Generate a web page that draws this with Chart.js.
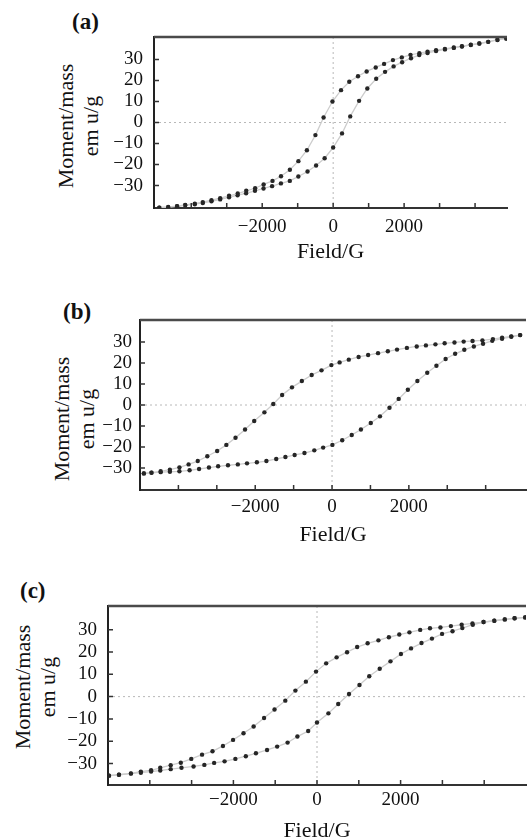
<!DOCTYPE html>
<html>
<head>
<meta charset="utf-8">
<script src="https://cdn.jsdelivr.net/npm/chart.js@4.4.0/dist/chart.umd.min.js"></script>
<style>
  body { margin: 0; background: #fff; width: 530px; height: 839px; position: relative; overflow: hidden;
         font-family: "Liberation Serif", "Times New Roman", serif; color: #111; }
  .panel { position: absolute; left: 0; width: 530px; }
  .tag { position: absolute; font-weight: bold; font-size: 23px; line-height: 1; }
  .ytitle { position: absolute; font-size: 22px; line-height: 25px; text-align: center; white-space: nowrap;
            transform: translate(-50%, -50%) rotate(-90deg); }
</style>
</head>
<body>
<div class="tag" style="left:72px;top:10px">(a)</div>
<div class="tag" style="left:63px;top:300px">(b)</div>
<div class="tag" style="left:20px;top:579px">(c)</div>

<div class="ytitle" style="left:78px;top:126px">Moment/mass<br>em u/g</div>
<div class="ytitle" style="left:74px;top:419px">Moment/mass<br>em u/g</div>
<div class="ytitle" style="left:35px;top:687px">Moment/mass<br>em u/g</div>

<div class="panel" style="top:0;height:272px"><canvas id="chartA"></canvas></div>
<div class="panel" style="top:280px;height:275px"><canvas id="chartB"></canvas></div>
<div class="panel" style="top:565px;height:280px"><canvas id="chartC"></canvas></div>

<script>
const FONT = '"Liberation Serif", "Times New Roman", serif';

// ── (a): descending branch (from +H) and ascending branch (from −H) ──
const A_UP_X = [4880, 4630, 4370, 4120, 3880, 3630, 3400, 3150, 2900, 2660, 2430, 2180, 1935, 1685, 1435, 1200, 944, 700, 454, 222,
                -20, -270, -500, -740, -980, -1220, -1470, -1710, -1960, -2200, -2450, -2690, -2935, -3185, -3430, -3675, -3900, -4170, -4400, -4650, -4900];
const A_UP_Y = [40, 39.4, 38.4, 37.6, 37, 36.3, 35.7, 35, 34.4, 33.7, 33, 32.2, 31, 29.7, 27.9, 26.2, 24.3, 22, 19.4, 15.4,
                10, 2.4, -6, -13.2, -18.4, -22.5, -25.6, -27.8, -29.5, -31.3, -32.5, -33.8, -34.9, -36, -37, -37.9, -38.6, -39.2, -39.8, -40.2, -40.5];
const A_DN_X = [-4900, -4650, -4400, -4170, -3900, -3675, -3430, -3185, -2935, -2694, -2454, -2204, -1963, -1722, -1472, -1222, -981, -722, -481, -240,
                0, 250, 481, 731, 963, 1213, 1463, 1704, 1944, 2194, 2426, 2660, 2900, 3150, 3400, 3630, 3880, 4120, 4370, 4630, 4880];
const A_DN_Y = [-40.5, -40.3, -39.9, -39.4, -38.9, -38.3, -37.5, -36.6, -35.6, -34.6, -33.7, -32.5, -31.4, -30.3, -29, -27.8, -25.7, -23.3, -20.5, -17,
                -11.9, -5.2, 2.9, 10.3, 16.2, 20.8, 24.1, 26.7, 28.7, 30.6, 32.1, 33.1, 34, 34.8, 35.5, 36.2, 36.9, 37.6, 38.4, 39.3, 40];

// ── (b) ──
const B_UP_X = [4897, 4667, 4427, 4188, 3915, 3658, 3427, 3188, 2932, 2692, 2444, 2205, 1949, 1692, 1453, 1197, 940, 692, 436, 197,
                -17, -274, -530, -786, -1043, -1299, -1530, -1761, -2026, -2265, -2513, -2752, -2991, -3248, -3496, -3735, -3974, -4222, -4462, -4701, -4900];
const B_UP_Y = [33.3, 32.7, 32.1, 31.4, 30.8, 30.5, 30.2, 29.8, 29.4, 28.9, 28.4, 27.9, 27.2, 26.4, 25.6, 24.7, 23.8, 22.9, 21.6, 20.3,
                19, 16.5, 14.3, 11.4, 8.4, 4.8, 0.5, -3.5, -7.6, -11.7, -15.6, -19, -21.9, -24.4, -26.7, -28.3, -29.7, -30.8, -31.6, -32.2, -32.6];
const B_DN_X = [-4900, -4701, -4462, -4222, -3974, -3709, -3462, -3205, -2966, -2709, -2453, -2214, -1957, -1709, -1453, -1214, -974, -718, -462, -231,
                9, 265, 513, 752, 1009, 1248, 1496, 1735, 1974, 2222, 2479, 2718, 2957, 3205, 3444, 3692, 3932, 4171, 4427, 4667, 4897];
const B_DN_Y = [-32.6, -32.3, -32.0, -31.8, -31.6, -31.1, -30.5, -29.8, -29.2, -28.7, -28.3, -27.8, -27.3, -26.7, -25.7, -24.8, -23.8, -22.9, -21.6, -20.3,
                -19, -16.8, -14.3, -11.7, -8.6, -5.4, -1.3, 2.9, 7.3, 11.4, 15.4, 18.7, 21.9, 24.4, 26.3, 27.9, 29.2, 30.6, 31.6, 32.5, 33.3];

// ── (c) ──
const C_UP_X = [4980, 4727, 4492, 4242, 3984, 3719, 3461, 3203, 2953, 2703, 2469, 2211, 1969, 1719, 1469, 1211, 961, 719, 469, 219,
                -23, -266, -516, -758, -1016, -1266, -1516, -1758, -2008, -2250, -2500, -2750, -3008, -3258, -3500, -3750, -3969, -4214, -4452, -4738, -4976];
const C_UP_Y = [35.5, 35.1, 34.6, 34.0, 33.4, 32.8, 32.2, 31.6, 31.0, 30.6, 29.9, 28.8, 27.8, 26.6, 25.2, 23.9, 22.2, 19.9, 17.6, 14.9,
                11.2, 6.7, 2.7, -1.8, -5.8, -9.6, -13.4, -16.4, -19.4, -22.1, -24.5, -26.0, -27.9, -29.6, -30.7, -31.9, -33.0, -33.6, -34.4, -35.0, -35.4];
const C_DN_X = [-4976, -4738, -4452, -4214, -3969, -3750, -3500, -3242, -2953, -2695, -2461, -2211, -1953, -1703, -1461, -1195, -953, -703, -469, -211,
                0, 273, 508, 766, 1016, 1250, 1500, 1758, 2008, 2250, 2500, 2750, 2992, 3242, 3477, 3727, 3984, 4242, 4492, 4727, 4980];
const C_DN_Y = [-35.4, -35.0, -34.5, -34.1, -33.6, -33.1, -32.5, -31.9, -31.3, -30.6, -29.7, -29.0, -27.9, -26.7, -25.4, -23.9, -22.4, -20.6, -17.9, -15.4,
                -11.6, -7.5, -3.3, 1.2, 5.2, 9.1, 12.5, 15.8, 19.1, 21.6, 24.0, 26.0, 28.1, 29.3, 30.7, 32.2, 33.4, 34.0, 34.6, 35.1, 35.5];

// ── ticks ──
const X_TICK_LABELS = [-2000, 0, 2000];
const X_TICK_MARKS  = [-4000, -3000, -2000, -1000, 0, 1000, 2000, 3000, 4000];
const Y_TICK_LABELS = [-30, -20, -10, 0, 10, 20, 30];

const toPts = (xs, ys) => xs.map((x, i) => ({ x, y: ys[i] }));
const fmt = v => (v < 0 ? '\u2212' + Math.abs(v) : String(v));

// zero lines, top border and inward tick marks
const framePlugin = {
  id: 'frame',
  beforeDatasetsDraw(chart) {
    const { ctx, chartArea: a, scales: { x, y } } = chart;
    const x0 = x.getPixelForValue(0), y0 = y.getPixelForValue(0);
    ctx.save();
    ctx.strokeStyle = '#b8b8b8';
    ctx.lineWidth = 1;
    ctx.setLineDash([2, 3]);
    ctx.beginPath();
    ctx.moveTo(x0, a.top); ctx.lineTo(x0, a.bottom);
    ctx.moveTo(a.left, y0); ctx.lineTo(a.right, y0);
    ctx.stroke();
    ctx.restore();
  },
  afterDatasetsDraw(chart) {
    const { ctx, chartArea: a, scales: { x, y } } = chart;
    ctx.save();
    ctx.strokeStyle = '#4a4a4a';
    ctx.lineWidth = 2.5;
    ctx.beginPath();
    ctx.moveTo(a.left, a.top); ctx.lineTo(a.right, a.top);
    ctx.stroke();
    ctx.strokeStyle = '#333';
    ctx.lineWidth = 1.5;
    ctx.beginPath();
    X_TICK_MARKS.forEach(v => {
      const px = x.getPixelForValue(v);
      ctx.moveTo(px, a.bottom); ctx.lineTo(px, a.bottom - 5);
    });
    Y_TICK_LABELS.forEach(v => {
      const py = y.getPixelForValue(v);
      ctx.moveTo(a.left, py); ctx.lineTo(a.left + 5, py);
    });
    ctx.stroke();
    ctx.restore();
  }
};

function branch(pts) {
  return {
    data: pts,
    showLine: true,
    borderColor: '#cdcdcd',
    borderWidth: 1.3,
    pointRadius: 2.2,
    pointBackgroundColor: '#262626',
    pointBorderWidth: 0,
    tension: 0
  };
}

function makePanel(canvasId, up, down, box) {
  return new Chart(document.getElementById(canvasId), {
    type: 'scatter',
    data: { datasets: [branch(up), branch(down)] },
    options: {
      responsive: true,
      maintainAspectRatio: false,
      animation: false,
      layout: { padding: { top: box.top, right: box.right, left: 0, bottom: 0 } },
      plugins: { legend: { display: false }, tooltip: { enabled: false } },
      scales: {
        x: {
          type: 'linear', min: box.xMin, max: box.xMax,
          grid: { display: false, drawTicks: false },
          border: { color: '#333', width: 2 },
          afterBuildTicks: s => { s.ticks = X_TICK_LABELS.map(v => ({ value: v })); },
          afterFit: s => { s.height = box.xAxisH; },
          ticks: { padding: box.xPad, autoSkip: false, maxRotation: 0, color: '#111',
                   font: { family: FONT, size: 19 }, callback: fmt },
          title: { display: true, text: 'Field/G', color: '#111',
                   font: { family: FONT, size: 22, lineHeight: 1.15 },
                   padding: { top: 0, bottom: box.titlePad } }
        },
        y: {
          type: 'linear', min: box.yMin, max: box.yMax,
          grid: { display: false, drawTicks: false },
          border: { color: '#222', width: 2 },
          afterBuildTicks: s => { s.ticks = Y_TICK_LABELS.map(v => ({ value: v })); },
          afterFit: s => { s.width = box.yAxisW; },
          ticks: { padding: box.yPad, autoSkip: false, color: '#111',
                   font: { family: FONT, size: 19 }, callback: fmt }
        }
      }
    },
    plugins: [framePlugin]
  });
}

makePanel('chartA', toPts(A_UP_X, A_UP_Y), toPts(A_DN_X, A_DN_Y),
  { top: 37, right: 23, yAxisW: 154, xAxisH: 64, xPad: 8, yPad: 11, titlePad: 7,
    xMin: -5050, xMax: 4900, yMin: -40.7, yMax: 40.7 });
makePanel('chartB', toPts(B_UP_X, B_UP_Y), toPts(B_DN_X, B_DN_Y),
  { top: 40, right: 0, yAxisW: 140, xAxisH: 65, xPad: 6, yPad: 8, titlePad: 7,
    xMin: -5000, xMax: 5050, yMin: -40.5, yMax: 40.5 });
makePanel('chartC', toPts(C_UP_X, C_UP_Y), toPts(C_DN_X, C_DN_Y),
  { top: 41, right: 0, yAxisW: 108, xAxisH: 60, xPad: 4, yPad: 11, titlePad: 1,
    xMin: -5000, xMax: 5000, yMin: -39.6, yMax: 40.6 });
</script>
</body>
</html>
